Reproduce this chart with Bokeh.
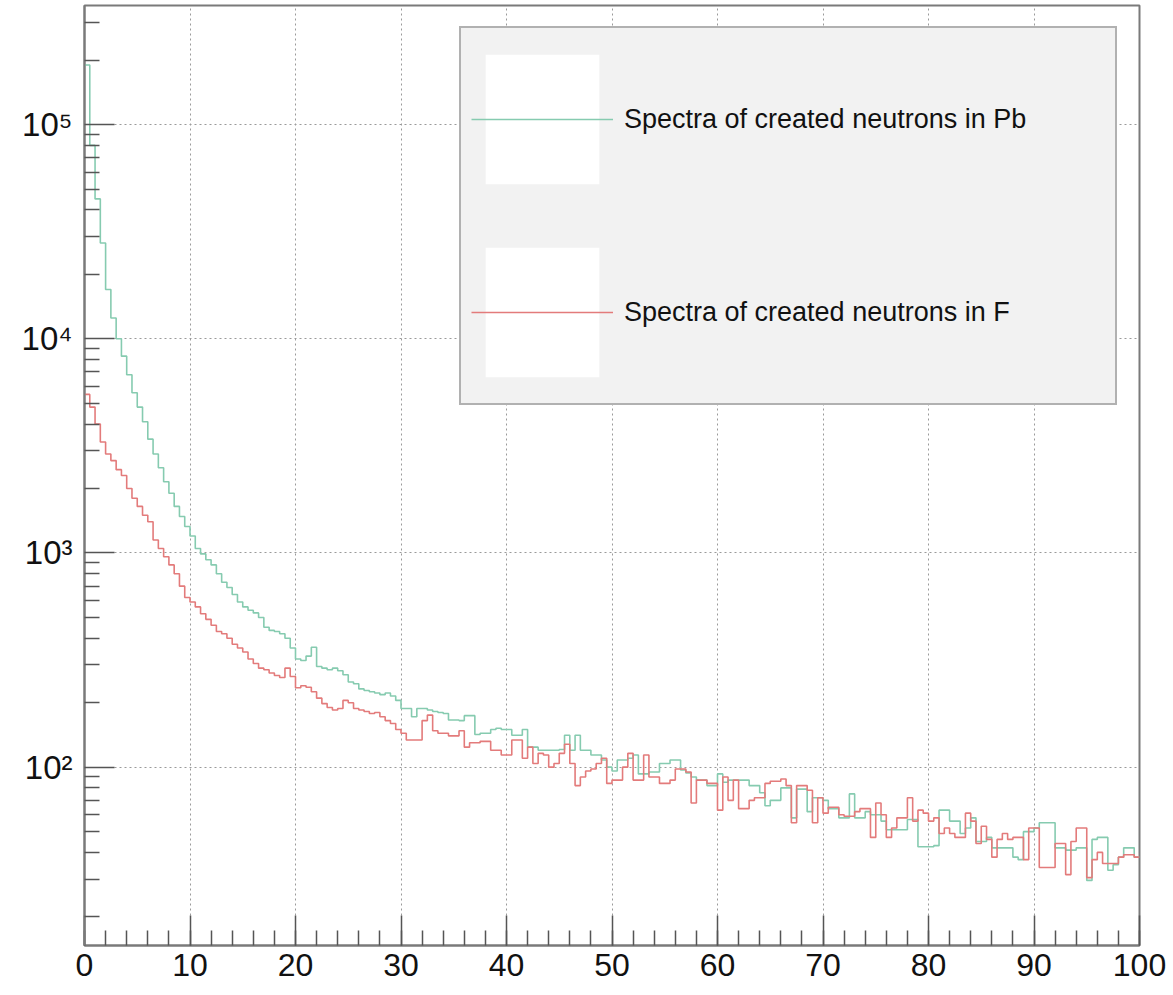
import numpy as np
from bokeh.plotting import figure
from bokeh.models import Range1d, SingleIntervalTicker, FixedTicker, Legend, LegendItem
from bokeh.embed import file_html
from bokeh.resources import INLINE

# ---------------- data ----------------
BIN_WIDTH = 0.5          # MeV
X_START, X_END = 0.0, 100.0
Y_START, Y_END = 14.7, 3.6e5

series_labels = ["Spectra of created neutrons in Pb", "Spectra of created neutrons in F"]

pb_counts = [
    190000, 80000, 45000, 28000, 17000, 12500, 10000, 8300, 6800, 5600,      # 0-5
    4800, 4100, 3400, 2900, 2500, 2150, 1900, 1650, 1480, 1330,              # 5-10
    1200, 1050, 990, 930, 880, 800, 730, 690, 640, 590,                      # 10-15
    560, 540, 525, 500, 450, 435, 430, 420, 400, 360,                        # 15-20
    320, 315, 330, 363, 295, 290, 285, 290, 282, 270,                        # 20-25
    250, 245, 232, 228, 225, 222, 218, 222, 215, 205,                        # 25-30
    188, 188, 172, 188, 188, 185, 182, 180, 178, 166,                        # 30-35
    166, 165, 174, 174, 142, 144, 144, 150, 152, 150,                        # 35-40
    150, 141, 141, 150, 124, 124, 120, 120, 120, 120,                        # 40-45
    121, 141, 120, 141, 120, 120, 114, 114, 108, 100,                        # 45-50
    96, 108, 108, 110, 114, 93, 93, 95, 95, 104,                             # 50-55
    104, 108, 108, 97, 94, 90, 87, 87, 82, 82,                               # 55-60
    93, 85, 87, 87, 87, 87, 82, 82, 76, 66,                                  # 60-65
    70, 70, 80, 80, 58, 79, 79, 62, 72, 72,                                  # 65-70
    70, 64, 64, 58, 58, 75, 58, 58, 62, 60,                                  # 70-75
    60, 56, 51, 51, 51, 51, 57, 57, 42.5, 42.5,                              # 75-80
    42.5, 43, 63, 63, 56, 56, 49, 52, 58, 45,                                # 80-85
    45, 47, 42, 42, 42, 42, 38, 37, 50, 50,                                  # 85-90
    52, 55, 55, 55, 42, 42, 41, 41, 42, 42,                                  # 90-95
    29.6, 46, 47, 47, 33, 35, 38, 42, 42, 38,                                # 95-100
]

f_counts = [
    5500, 4800, 4000, 3300, 2900, 2700, 2450, 2300, 2000, 1800,              # 0-5
    1650, 1500, 1400, 1150, 1050, 960, 880, 800, 700, 620,                   # 5-10
    590, 560, 520, 490, 460, 430, 420, 400, 375, 360,                        # 10-15
    345, 320, 305, 290, 285, 275, 268, 262, 290, 265,                        # 15-20
    235, 240, 236, 225, 210, 198, 190, 185, 188, 205,                        # 20-25
    200, 188, 185, 182, 178, 180, 172, 165, 160, 150,                        # 25-30
    144, 134, 134, 134, 165, 175, 148, 144, 144, 140,                        # 30-35
    140, 148, 124, 130, 130, 132, 132, 120, 120, 114,                        # 35-40
    114, 134, 134, 110, 124, 104, 116, 114, 100, 104,                        # 40-45
    116, 128, 104, 82, 90, 96, 98, 104, 110, 84,                             # 45-50
    87, 87, 100, 116, 87, 87, 114, 90, 90, 84,                               # 50-55
    84, 87, 98, 98, 95, 68, 87, 87, 84, 84,                                  # 55-60
    63, 90, 70, 87, 64, 64, 70, 72, 72, 84,                                  # 60-65
    86, 86, 88, 82, 55, 82, 82, 78, 55, 72,                                  # 65-70
    61, 65, 65, 60, 59, 59, 62, 64, 64, 47,                                  # 70-75
    68, 60, 47, 52, 58, 58, 72, 56, 63, 61,                                  # 75-80
    56, 58, 49, 52, 49, 47, 47, 61, 56, 44,                                  # 80-85
    53, 46, 38, 46, 49, 46, 47, 47, 37, 52,                                  # 85-90
    52, 34, 34, 34, 44, 44, 31.5, 45, 52, 52,                                # 90-95
    30.5, 37, 40, 35.5, 35.5, 35.5, 38, 39, 39, 38,                          # 95-100
]

x_major_ticks = [0, 10, 20, 30, 40, 50, 60, 70, 80, 90, 100]
y_major_ticks = [1e2, 1e3, 1e4, 1e5]
y_tick_labels = ["10\u00b2", "10\u00b3", "10\u2074", "10\u2075"]
y_minor_mantissas = [2, 3, 4, 5, 6, 7, 8, 9]
y_minor_decades = [1e1, 1e2, 1e3, 1e4, 1e5]

pb_color = "#86cbb0"
f_color = "#e37b7b"
FONT = "Liberation Sans"

# ---------------- figure ----------------
p = figure(width=1173, height=995, y_axis_type="log",
           x_range=Range1d(X_START, X_END), y_range=Range1d(Y_START, Y_END),
           output_backend="svg", toolbar_location=None,
           min_border_left=84, min_border_right=34, min_border_top=5, min_border_bottom=50)
p.background_fill_color = "white"
p.border_fill_color = "white"
p.outline_line_color = "#7a7a7a"
p.outline_line_width = 2

def step_xy(counts):
    n = len(counts)
    edges = X_START + BIN_WIDTH * np.arange(n + 1)
    ys = list(counts) + [counts[-1]]
    return edges, ys

# white legend glyph backgrounds (a renderer with no visible data, used only by the legend)
nan = float("nan")
bg = p.quad(left=[nan], right=[nan], top=[nan], bottom=[nan],
            fill_color="white", line_color=None)

xs, ys = step_xy(pb_counts)
r_pb = p.step(xs, ys, mode="after", line_color=pb_color, line_width=1.6)
xs, ys = step_xy(f_counts)
r_f = p.step(xs, ys, mode="after", line_color=f_color, line_width=1.6)

# ---------------- axes ----------------
p.xaxis.ticker = SingleIntervalTicker(interval=10, num_minor_ticks=5)
minor_y = [m * d for d in y_minor_decades for m in y_minor_mantissas]
p.yaxis.ticker = FixedTicker(ticks=y_major_ticks, minor_ticks=minor_y)
p.yaxis.major_label_overrides = {t: lab for t, lab in zip(y_major_ticks, y_tick_labels)}

for ax in (p.xaxis[0], p.yaxis[0]):
    ax.axis_line_color = "#7a7a7a"
    ax.axis_line_width = 2
    ax.major_tick_line_color = "#555555"
    ax.minor_tick_line_color = "#555555"
    ax.major_tick_line_width = 1.5
    ax.minor_tick_line_width = 1.5
    ax.major_tick_out = 0
    ax.minor_tick_out = 0
    ax.major_tick_in = 30
    ax.minor_tick_in = 15
    ax.major_label_text_font = FONT
    ax.major_label_text_color = "#111111"

p.xaxis.major_label_text_font_size = "32px"
p.xaxis.major_label_standoff = 8
p.yaxis.major_label_text_font_size = "33px"
p.yaxis.major_label_standoff = 12

p.xgrid.grid_line_color = "#9a9a9a"
p.xgrid.grid_line_dash = "2 3"
p.xgrid.grid_line_width = 1
p.ygrid.grid_line_color = "#9a9a9a"
p.ygrid.grid_line_dash = "2 3"
p.ygrid.grid_line_width = 1

# ---------------- legend ----------------
legend = Legend(items=[LegendItem(label=series_labels[0], renderers=[bg, r_pb]),
                       LegendItem(label=series_labels[1], renderers=[bg, r_f])],
                location=(375, 540), orientation="vertical",
                glyph_width=142, glyph_height=162, spacing=31, padding=10,
                label_standoff=11, label_width=481,
                label_text_font=FONT, label_text_font_size="27px", label_text_color="#111111",
                background_fill_color="#f2f2f2", background_fill_alpha=1.0,
                border_line_color="#6f6f6f", border_line_width=2, margin=0)
p.add_layout(legend)

open("out.html", "w").write(file_html(p, INLINE))
